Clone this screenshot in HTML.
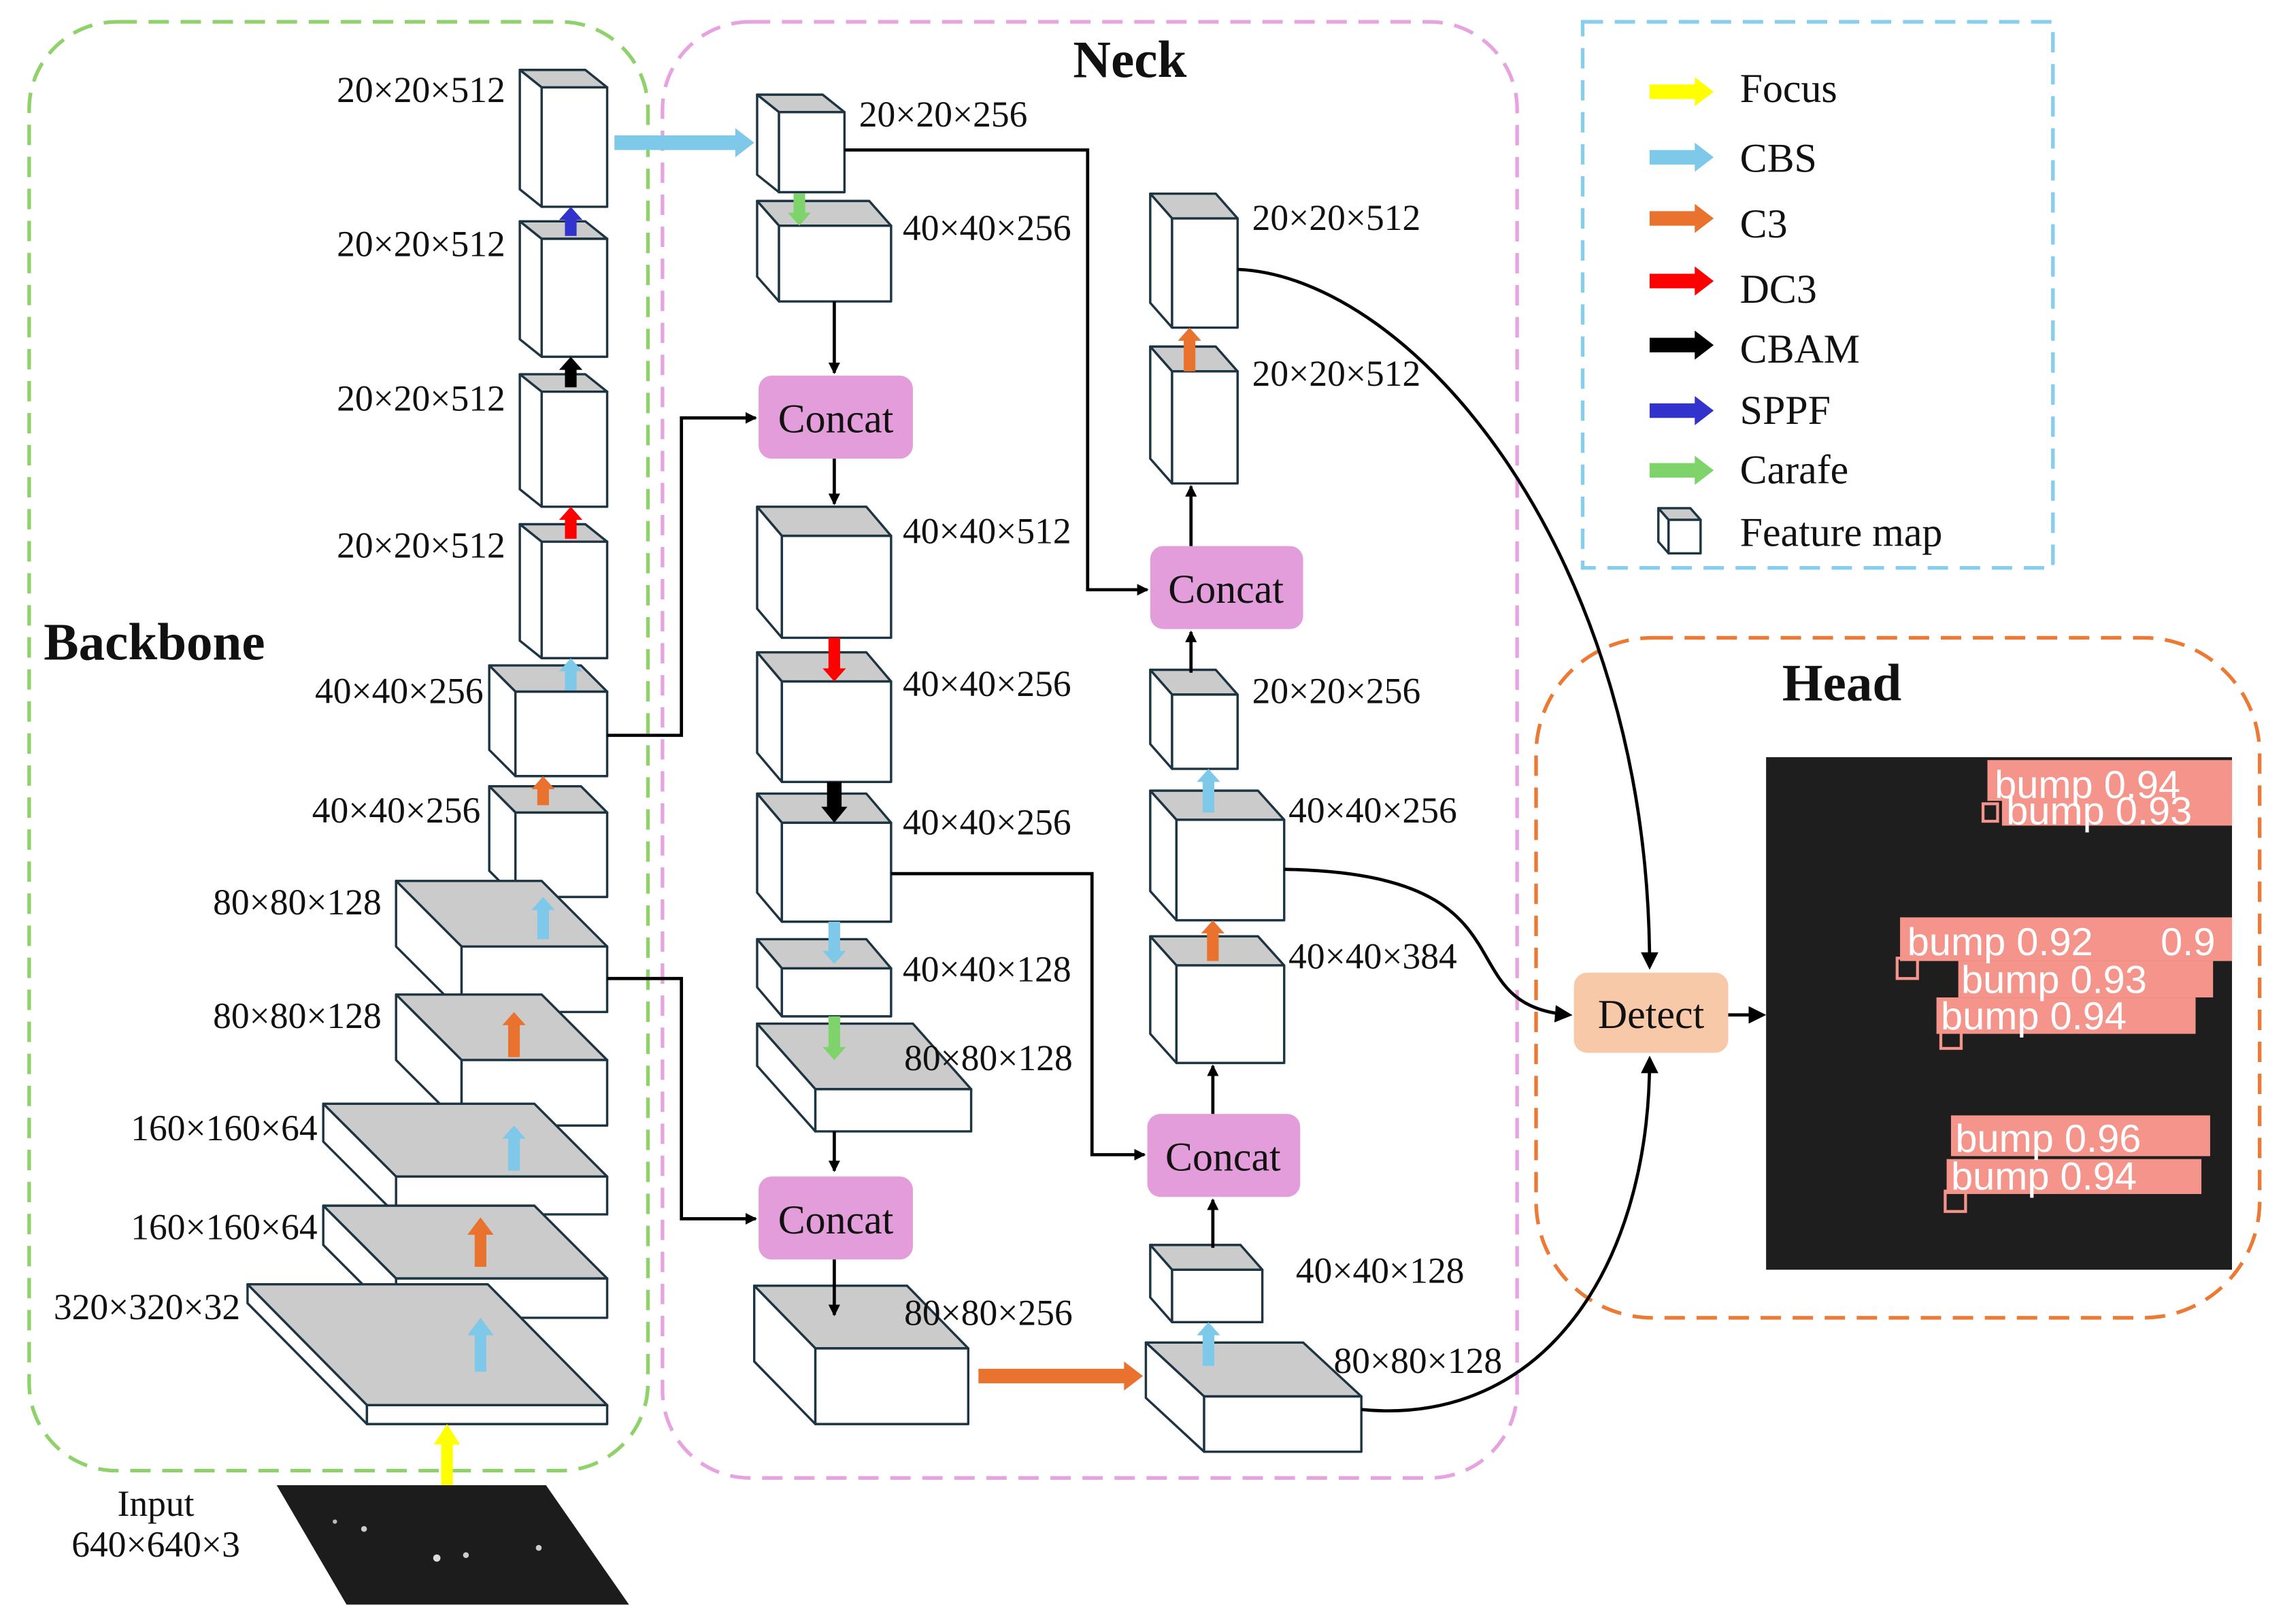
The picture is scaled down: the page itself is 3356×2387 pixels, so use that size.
<!DOCTYPE html>
<html><head><meta charset="utf-8"><style>
html,body{margin:0;padding:0;background:#fff;}
svg{display:block}
text{font-family:"Liberation Serif",serif;fill:#111}
.l{font-size:25px}
.c{font-size:28px}
.b{font-size:36px;font-weight:bold}
.w{font-family:"Liberation Sans",sans-serif;font-size:27px;fill:#fff}
</style></head><body>
<svg id="s" xmlns="http://www.w3.org/2000/svg" width="3356" height="2387" viewBox="0 0 1568 1115.3">
<defs>
<marker id="ah" markerWidth="8" markerHeight="8" refX="7" refY="4" orient="auto" markerUnits="userSpaceOnUse"><path d="M0,0 L8,4 L0,8 z" fill="#000"/></marker>
<marker id="ah2" markerWidth="12" markerHeight="12" refX="10" refY="6" orient="auto" markerUnits="userSpaceOnUse"><path d="M0,0 L12,6 L0,12 z" fill="#000"/></marker>
</defs>
<rect x="20" y="15" width="425" height="995" rx="60" fill="none" stroke="#8fd16a" stroke-width="2.5" stroke-dasharray="14,8"/>
<rect x="455" y="15" width="587" height="1000" rx="60" fill="none" stroke="#e7a3e0" stroke-width="2.5" stroke-dasharray="14,8"/>
<rect x="1087" y="15" width="323" height="375" fill="none" stroke="#86cdee" stroke-width="2.5" stroke-dasharray="14,8"/>
<rect x="1055" y="438" width="497" height="467" rx="80" fill="none" stroke="#ec7a35" stroke-width="2.5" stroke-dasharray="14,8"/>
<text class="b" x="30" y="453">Backbone</text>
<text class="b" x="776" y="53" text-anchor="middle">Neck</text>
<text class="b" x="1265" y="481" text-anchor="middle">Head</text>

<g id="shapes"></g>

<polygon points="190,1020 375,1020 432,1102 238,1102" fill="#1c1c1c"/>
<circle cx="250" cy="1050" r="2" fill="#ccc"/><circle cx="300" cy="1070" r="2.5" fill="#ddd"/><circle cx="320" cy="1068" r="2" fill="#ccc"/><circle cx="370" cy="1063" r="2" fill="#ccc"/><circle cx="230" cy="1045" r="1.5" fill="#bbb"/>
<text class="l" x="107" y="1041" text-anchor="middle">Input</text>
<text class="l" x="107" y="1069" text-anchor="middle">640×640×3</text>

<text class="l" x="347" y="70" text-anchor="end">20×20×512</text>
<text class="l" x="347" y="176" text-anchor="end">20×20×512</text>
<text class="l" x="347" y="282" text-anchor="end">20×20×512</text>
<text class="l" x="347" y="383" text-anchor="end">20×20×512</text>
<text class="l" x="332" y="483" text-anchor="end">40×40×256</text>
<text class="l" x="330" y="565" text-anchor="end">40×40×256</text>
<text class="l" x="262" y="628" text-anchor="end">80×80×128</text>
<text class="l" x="262" y="706" text-anchor="end">80×80×128</text>
<text class="l" x="218" y="783" text-anchor="end">160×160×64</text>
<text class="l" x="218" y="851" text-anchor="end">160×160×64</text>
<text class="l" x="165" y="906" text-anchor="end">320×320×32</text>

<text class="l" x="590" y="87">20×20×256</text>
<text class="l" x="620" y="165">40×40×256</text>
<text class="l" x="620" y="373">40×40×512</text>
<text class="l" x="620" y="478">40×40×256</text>
<text class="l" x="620" y="573">40×40×256</text>
<text class="l" x="620" y="674">40×40×128</text>
<text class="l" x="621" y="735">80×80×128</text>
<text class="l" x="621" y="910">80×80×256</text>
<text class="l" x="860" y="158">20×20×512</text>
<text class="l" x="860" y="265">20×20×512</text>
<text class="l" x="860" y="483">20×20×256</text>
<text class="l" x="885" y="565">40×40×256</text>
<text class="l" x="885" y="665">40×40×384</text>
<text class="l" x="890" y="881">40×40×128</text>
<text class="l" x="916" y="943">80×80×128</text>

<rect x="521" y="258" width="106" height="57" rx="9" fill="#e39ddb"/><text class="c" x="574" y="297" text-anchor="middle">Concat</text>
<rect x="521" y="808" width="106" height="57" rx="9" fill="#e39ddb"/><text class="c" x="574" y="847" text-anchor="middle">Concat</text>
<rect x="790" y="375" width="105" height="57" rx="9" fill="#e39ddb"/><text class="c" x="842" y="414" text-anchor="middle">Concat</text>
<rect x="788" y="765" width="105" height="57" rx="9" fill="#e39ddb"/><text class="c" x="840" y="804" text-anchor="middle">Concat</text>
<rect x="1081" y="668" width="106" height="55" rx="9" fill="#f8c9a9"/><text class="c" x="1134" y="706" text-anchor="middle">Detect</text>

<g fill="none" stroke="#000" stroke-width="2.2">
<path d="M573,207 V256" marker-end="url(#ah)"/>
<path d="M573,315 V346" marker-end="url(#ah)"/>
<path d="M573,777 V804" marker-end="url(#ah)"/>
<path d="M573,865 V903" marker-end="url(#ah)"/>
<path d="M580,103 H747 V405 H788" marker-end="url(#ah)"/>
<path d="M417,505 H468 V287 H519" marker-end="url(#ah)"/>
<path d="M417,672 H468 V837 H519" marker-end="url(#ah)"/>
<path d="M612,600 H750 V793 H786" marker-end="url(#ah)"/>
<path d="M818,375 V334" marker-end="url(#ah)"/>
<path d="M818,462 V434" marker-end="url(#ah)"/>
<path d="M833,765 V732" marker-end="url(#ah)"/>
<path d="M833,857 V824" marker-end="url(#ah)"/>
<path d="M850,185 C970,190 1133,380 1133,664" marker-end="url(#ah2)"/>
<path d="M882,597 C1060,600 990,690 1078,697" marker-end="url(#ah2)"/>
<path d="M935,968 C1060,980 1133,870 1133,727" marker-end="url(#ah2)"/>
<path d="M1187,697 H1211" marker-end="url(#ah2)"/>
</g>

<text class="c" x="1195" y="70">Focus</text>
<text class="c" x="1195" y="118">CBS</text>
<text class="c" x="1195" y="163">C3</text>
<text class="c" x="1195" y="208">DC3</text>
<text class="c" x="1195" y="249">CBAM</text>
<text class="c" x="1195" y="291">SPPF</text>
<text class="c" x="1195" y="332">Carafe</text>
<text class="c" x="1195" y="375">Feature map</text>

<rect x="1213" y="520" width="320" height="352" fill="#1e1e1e"/>
<g fill="#f4948a">
<rect x="1365" y="522" width="168" height="28"/><rect x="1375" y="545" width="158" height="22"/>
<rect x="1305" y="630" width="228" height="30"/><rect x="1345" y="660" width="175" height="25"/><rect x="1330" y="685" width="178" height="25"/>
<rect x="1340" y="766" width="178" height="28"/><rect x="1337" y="796" width="175" height="24"/>
</g>
<g fill="none" stroke="#f4948a" stroke-width="2">
<rect x="1362" y="552" width="10" height="12"/><rect x="1303" y="658" width="14" height="14"/><rect x="1333" y="708" width="14" height="12"/><rect x="1336" y="818" width="14" height="14"/>
</g>
<text class="w" x="1378" y="566">bump 0.93</text>
<text class="w" x="1370" y="548">bump 0.94</text>
<text class="w" x="1310" y="656">bump 0.92</text><text class="w" x="1484" y="656">0.9</text>
<text class="w" x="1347" y="682">bump 0.93</text>
<text class="w" x="1333" y="707">bump 0.94</text>
<text class="w" x="1343" y="791">bump 0.96</text>
<text class="w" x="1340" y="817">bump 0.94</text>
</svg>
<script>
var g=document.getElementById('shapes');var NS='http://www.w3.org/2000/svg';
function P(pts,fill){var p=document.createElementNS(NS,'polygon');p.setAttribute('points',pts.map(function(a){return a.join(',')}).join(' '));p.setAttribute('fill',fill);p.setAttribute('stroke','#1d3442');p.setAttribute('stroke-width','1.6');p.setAttribute('stroke-linejoin','round');g.appendChild(p);}
function cube(L,T,R,B,dx,dy){
P([[L,T],[R-dx,T],[R,T+dy],[L+dx,T+dy]],'#cbcbcb');
P([[L,T],[L+dx,T+dy],[L+dx,B],[L,B-dy]],'#fff');
P([[L+dx,T+dy],[R,T+dy],[R,B],[L+dx,B]],'#fff');}
function va(x,y1,y2,c,sw,hw,hl){
var d=y2<y1?1:-1;sw=sw||4;hw=hw||8;hl=hl||9;var hb=y2+d*hl;
P([[x-sw,y1],[x+sw,y1],[x+sw,hb],[x+hw,hb],[x,y2],[x-hw,hb],[x-sw,hb]],c);g.lastChild.setAttribute('stroke','none');}
function ha(y,x1,x2,c,sw,hw,hl){var hb=x2-hl;P([[x1,y-sw],[hb,y-sw],[hb,y-hw],[x2,y],[hb,y+hw],[hb,y+sw],[x1,y+sw]],c);g.lastChild.setAttribute('stroke','none');}
var LB='#7ec8ea',OR='#e8722e',RD='#ff0000',BK='#000',SP='#3232cc',GR='#7ed36b',YE='#ffff00';
cube(357,48,417,142,15,12);cube(357,152,417,245,15,12);cube(357,257,417,348,15,12);cube(357,360,417,452,15,12);
cube(336,457,417,533,18,18);cube(336,540,417,616,18,18);
cube(272,605,417,695,45,45);cube(272,683,417,773,45,45);
cube(222,758,417,834,50,50);cube(222,828,417,905,50,50);
cube(170,882,417,978,82,83);
cube(520,65,580,132,15,12);cube(520,138,612,207,15,17);cube(520,348,612,438,17,20);cube(520,448,612,537,17,20);
cube(520,545,612,633,17,20);cube(520,645,612,698,17,20);cube(520,703,667,777,40,45);cube(518,883,665,978,42,43);
cube(790,133,850,225,15,17);cube(790,238,850,332,15,17);cube(790,460,850,528,15,17);
cube(790,543,882,632,18,20);cube(790,643,882,730,18,20);cube(790,855,867,908,15,17);cube(787,922,935,997,40,37);
cube(1139,349,1168,380,7,8);
va(392,162,142,SP);va(392,266,245,BK);va(392,370,348,RD);va(392,474,452,LB);
va(373,553,533,OR);va(373,645,616,LB);va(353,726,695,OR);va(353,804,773,LB);va(330,870,836,OR,4,9,12);va(330,942,905,LB,4,9,12);
va(307,1060,978,YE,4,9,14);
ha(98,422,518,LB,5,10,13);va(549,133,155,GR);va(573,438,468,RD);va(573,537,565,BK,5,9,11);va(573,633,662,LB);va(573,698,728,GR);
ha(945,672,785,OR,5,10,13);va(817,255,225,OR);va(830,558,528,LB);va(833,660,632,OR);va(830,938,908,LB);
ha(63,1133,1177,YE,5,10,13);ha(108,1133,1177,LB,5,10,13);ha(150,1133,1177,OR,5,10,13);ha(193,1133,1177,RD,5,10,13);
ha(237,1133,1177,BK,5,10,13);ha(282,1133,1177,SP,5,10,13);ha(323,1133,1177,GR,5,10,13);
</script>
</body></html>
